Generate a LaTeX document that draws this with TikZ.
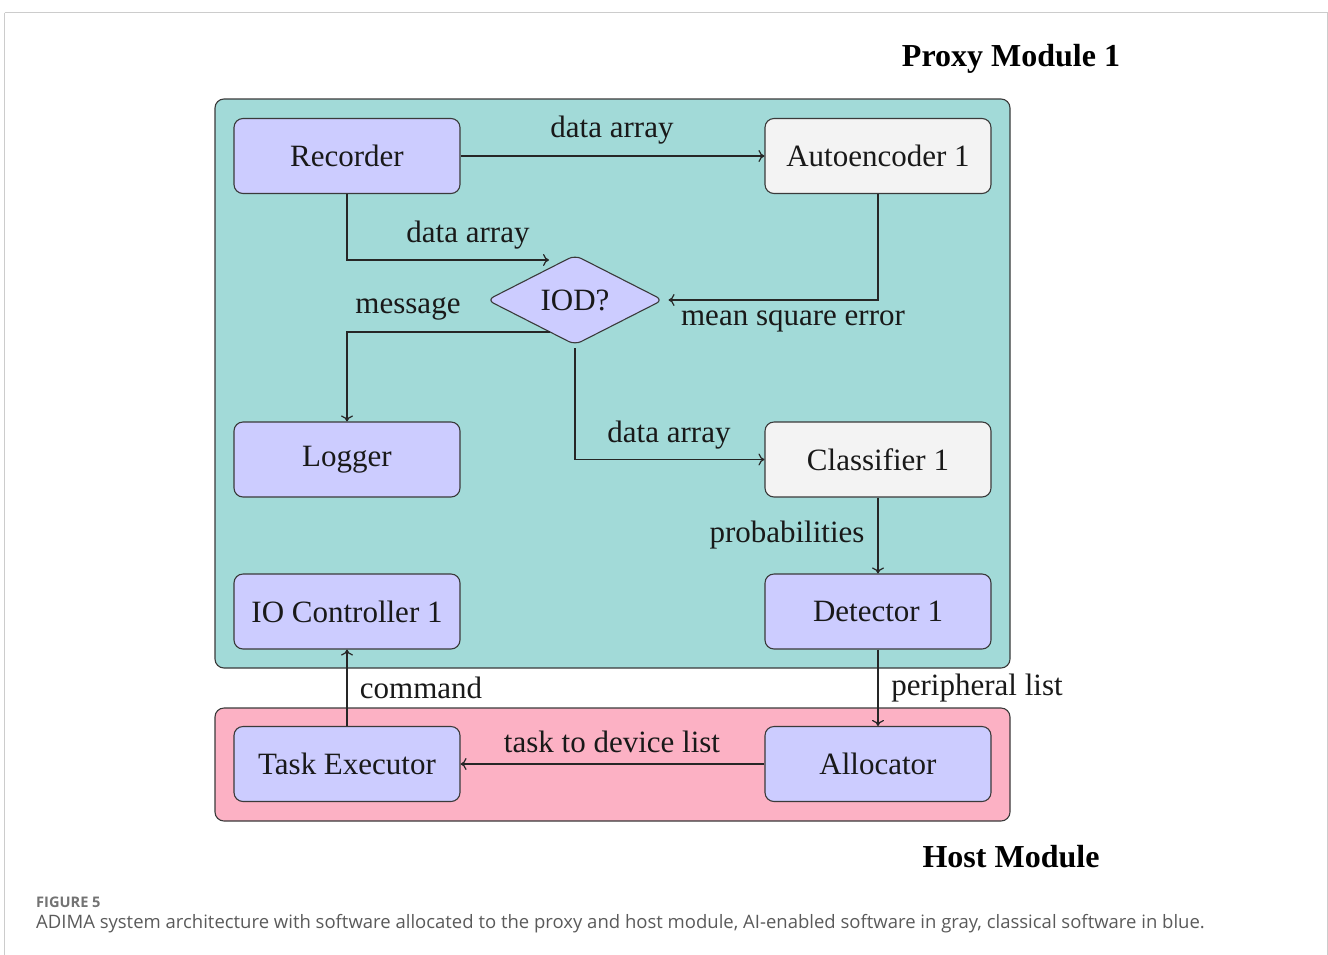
\documentclass[tikz,border=0pt]{standalone}
\usepackage{fontspec}
\setmainfont{Liberation Serif}
\newfontfamily\capfont{Open Sans}
\usetikzlibrary{shapes.geometric,calc,arrows.meta}
\definecolor{teal1}{HTML}{A2DAD8}
\definecolor{pink1}{HTML}{FCB1C4}
\definecolor{lav}{HTML}{CCCCFF}
\definecolor{gry}{HTML}{F3F3F3}
\definecolor{edge}{HTML}{3A3A3A}
\definecolor{capgray}{HTML}{5A5A5A}
\tikzset{
  base/.style={draw=edge, line width=1.1pt, rounded corners=9pt, minimum width=226pt, minimum height=75pt, inner sep=0pt, font=\fontsize{31}{36}\selectfont, text=black!90},
  classic/.style={base, fill=lav},
  ai/.style={base, fill=gry},
  modbox/.style={draw=edge, line width=1.1pt, rounded corners=9pt},
  lbl/.style={anchor=base, inner sep=0pt, font=\fontsize{31}{36}\selectfont, text=black!90},
  ttl/.style={anchor=base, inner sep=0pt, font=\fontsize{32}{36}\selectfont\bfseries},
  conn/.style={-{To[length=6pt,width=12pt]}, line width=1.2pt, draw=black!85},
}
\begin{document}
\begin{tikzpicture}[x=1pt,y=-1pt]
\useasboundingbox (0,0) rectangle (1328,954);
\draw[draw=black!20, line width=1.5pt] (4.5,12.5) -- (1327.5,12.5) -- (1327.5,960) (4.5,12.5) -- (4.5,960);
% module containers
\node[modbox, fill=teal1, minimum width=795pt, minimum height=569pt] (proxy) at (612.5,383.5) {};
\node[modbox, fill=pink1, minimum width=795pt, minimum height=113pt] (host) at (612.5,764.5) {};
\node[ttl] (tproxy) at (1011,66) {Proxy Module 1};
\node[ttl] (thost) at (1011,867) {Host Module};
% nodes
\node[classic] (rec) at (347,156) {Recorder};
\node[ai] (ae) at (878,156) {Autoencoder 1};
\node[diamond, draw=edge, line width=1.1pt, fill=lav, rounded corners=7pt, minimum width=176pt, minimum height=88pt, inner sep=0pt, font=\fontsize{31}{36}\selectfont, text=black!90] (iod) at (575,300) {IOD?};
\node[classic] (log) at (347,459.5) {Logger};
\node[ai] (cls) at (878,459.5) {Classifier 1};
\node[classic] (ioc) at (347,611.5) {IO Controller 1};
\node[classic] (det) at (878,611.5) {Detector 1};
\node[classic] (te) at (347,764) {Task Executor};
\node[classic] (al) at (878,764) {Allocator};
% connectors
\draw[conn] (rec.east) -- (ae.west);
\draw[conn] (rec.south) |- ($(iod.center)+(-26,-40)$);
\draw[conn] (ae.south) |- ($(iod.east)+(5,0)$);
\draw[conn] ($(iod.center)+(-25,32)$) -| (log.north);
\draw[conn] ($(iod.south)+(0,3)$) |- (cls.west);
\draw[conn] (cls.south) -- (det.north);
\draw[conn] (det.south) -- (al.north);
\draw[conn] (al.west) -- (te.east);
\draw[conn] (te.north) -- (ioc.south);
% labels
\node[lbl] (l1) at (612,137) {data array};
\node[lbl] (l2) at (468,242) {data array};
\node[lbl] (l3) at (408,313) {message};
\node[lbl] (l4) at (793,325) {mean square error};
\node[lbl] (l5) at (669,442) {data array};
\node[lbl] (l6) at (787,542) {probabilities};
\node[lbl] (l7) at (421,698) {command};
\node[lbl] (l8) at (977,695) {peripheral list};
\node[lbl] (l9) at (612,752) {task to device list};
% caption
\node[anchor=base west, inner sep=0pt, font=\capfont\fontsize{14.6}{17}\selectfont\bfseries, text=capgray!85] (fig) at (36,907) {FIGURE 5};
\node[anchor=base west, inner sep=0pt, font=\capfont\fontsize{18.5}{22}\selectfont, text=capgray] (cap) at (36,928) {ADIMA system architecture with software allocated to the proxy and host module, AI-enabled software in gray, classical software in blue.};
\end{tikzpicture}
\end{document}
